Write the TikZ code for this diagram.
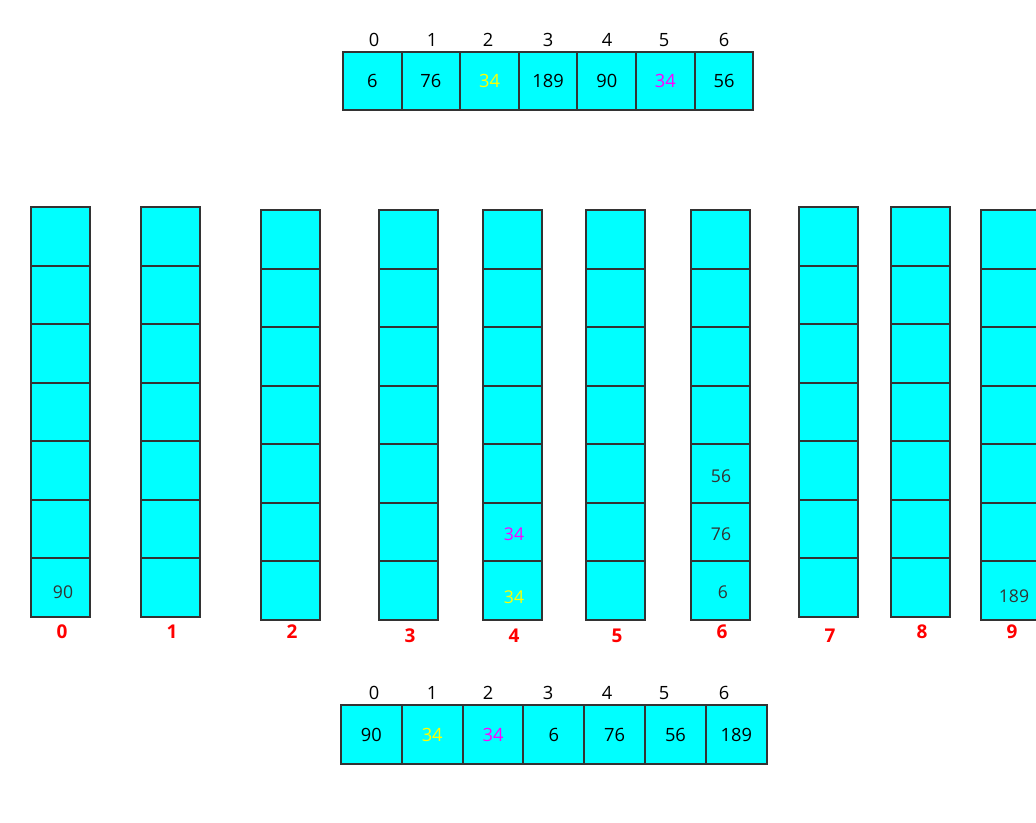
\documentclass[tikz,border=0pt]{standalone}
\usepackage{fontspec}
\setmainfont{Open Sans}
\usepackage{xcolor}
\usetikzlibrary{positioning}
\definecolor{aqua}{RGB}{0,255,255}
\definecolor{hiyellow}{RGB}{255,255,0}
\definecolor{himagenta}{RGB}{255,0,255}
\definecolor{hired}{RGB}{255,0,0}
\definecolor{edgegray}{RGB}{51,51,51}

\begin{document}
\begin{tikzpicture}[x=0.025cm,y=-0.025cm,
cell/.style={rectangle,fill=aqua,outer sep=0pt,inner sep=0pt,minimum width=1.465cm,minimum height=1.465cm,font=\fontsize{13}{15}\selectfont},
widecell/.style={cell,minimum width=1.52cm,minimum height=1.48cm},
slot/.style={cell,minimum width=1.475cm,minimum height=1.464cm},
edge/.style={draw=edgegray,line width=1.4pt},
idx/.style={font=\fontsize{13}{15}\selectfont,inner sep=0pt},
val/.style={font=\fontsize{12.5}{15}\selectfont,text=edgegray,inner sep=0pt},
bucketno/.style={font=\fontsize{13.5}{15}\selectfont\bfseries,text=hired,inner sep=0pt}
]
\useasboundingbox (0,0) rectangle (1036,822);
\clip (0,0) rectangle (1036,822);

% input array
\node[cell] (a0) at (372.3,81) {6};
\node[cell,right=0pt of a0] (a1) {76};
\node[cell,right=0pt of a1,text=hiyellow] (a2) {34};
\node[cell,right=0pt of a2] (a3) {189};
\node[cell,right=0pt of a3] (a4) {90};
\node[cell,right=0pt of a4,text=himagenta] (a5) {34};
\node[cell,right=0pt of a5] (a6) {56};
\node[idx] (i0) at (374,40) {0};
\node[idx] (i1) at (432,40) {1};
\node[idx] (i2) at (488,40) {2};
\node[idx] (i3) at (548,40) {3};
\node[idx] (i4) at (607,40) {4};
\node[idx] (i5) at (664,40) {5};
\node[idx] (i6) at (724,40) {6};

% buckets 0..9
\foreach \b/\x/\t/\ly in {0/60.5/207/632,1/170.5/207/632,2/290.5/210/632,3/408.5/210/636,4/512.5/210/636,
  5/615.5/210/636,6/720.5/210/632,7/828.5/207/636,8/920.5/207/632,9/1010.5/210/632}{
  \foreach \k in {0,...,6}
    \node[slot] (b\b-\k) at (\x,{\t+29.3+58.57*\k}) {};
  \foreach \k in {0,...,6}
    \draw[edge] (b\b-\k.north west) rectangle (b\b-\k.south east);
  \node[bucketno] (n\b) at ({\x+1.5},\ly) {\b};
}
\node[val] (v0) at (63,592) {90};
\node[val,text=himagenta] (v4a) at (514,534) {34};
\node[val,text=hiyellow] (v4b) at (514,597) {34};
\node[val] (v6a) at (721,476) {56};
\node[val] (v6b) at (721,534) {76};
\node[val] (v6c) at (723,592) {6};
\node[val] (v9) at (1014,596) {189};

% output array
\node[widecell] (c0) at (371.4,734.5) {90};
\node[widecell,right=0pt of c0,text=hiyellow] (c1) {34};
\node[widecell,right=0pt of c1,text=himagenta] (c2) {34};
\node[widecell,right=0pt of c2] (c3) {6};
\node[widecell,right=0pt of c3] (c4) {76};
\node[widecell,right=0pt of c4] (c5) {56};
\node[widecell,right=0pt of c5] (c6) {189};
\node[idx] (j0) at (374,693) {0};
\node[idx] (j1) at (432,693) {1};
\node[idx] (j2) at (488,693) {2};
\node[idx] (j3) at (548,693) {3};
\node[idx] (j4) at (607,693) {4};
\node[idx] (j5) at (664,693) {5};
\node[idx] (j6) at (724,693) {6};

\foreach \n in {a0,a1,a2,a3,a4,a5,a6,c0,c1,c2,c3,c4,c5,c6}
  \draw[edge] (\n.north west) rectangle (\n.south east);
\end{tikzpicture}
\end{document}
